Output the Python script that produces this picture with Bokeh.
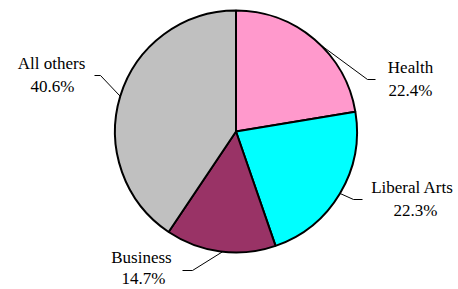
import math
from bokeh.plotting import figure
from bokeh.models import Range1d, ColumnDataSource
from bokeh.core.properties import value
from bokeh.embed import file_html
from bokeh.resources import INLINE

# ---- data ----
categories = ["Health", "Liberal Arts", "Business", "All others"]
shares = [22.4, 22.3, 14.7, 40.6]
pct_labels = ["22.4%", "22.3%", "14.7%", "40.6%"]
colors = ["#FF99CC", "#00FFFF", "#993366", "#C0C0C0"]

# ---- layout (image pixel coordinates, y downward) ----
W, H = 458, 289
CX, CY, R = 235.5, 131.0, 121.0
leader_angle_tweak = [-4.0, 0.0, 1.0, 0.0]          # degrees
elbows = [(367, 79), (353, 199), (192, 270), (100, 75)]
tails = [(375, 79), (362, 199), (182, 270), (94, 75)]
name_pos = [(410, 67), (412, 187), (141, 256.5), (51, 62.5)]
pct_pos = [(410, 90), (415, 210), (143, 278), (52, 86)]
FONT = "Liberation Serif"
FSIZE = "17px"

p = figure(width=W, height=H, output_backend="svg", toolbar_location=None,
           x_range=Range1d(0, W), y_range=Range1d(-H, 0),
           min_border=0)
p.axis.visible = False
p.grid.visible = False
p.outline_line_color = None
p.background_fill_color = "white"

total = sum(shares)
starts, ends, mids = [], [], []
cum = 0.0
for s in shares:
    a0 = math.pi / 2 - cum / total * 2 * math.pi
    cum += s
    a1 = math.pi / 2 - cum / total * 2 * math.pi
    starts.append(a0)
    ends.append(a1)
    mids.append((a0 + a1) / 2)

src = ColumnDataSource(dict(start=starts, end=ends, color=colors, cat=categories))
p.wedge(x=CX, y=-CY, radius=R, start_angle="start", end_angle="end",
        direction="clock", fill_color="color", line_color="black", line_width=2,
        source=src)

xs, ys = [], []
for i, m in enumerate(mids):
    a = m + math.radians(leader_angle_tweak[i])
    sx = CX + R * math.cos(a)
    sy = -CY + R * math.sin(a)
    xs.append([sx, elbows[i][0], tails[i][0]])
    ys.append([sy, -elbows[i][1], -tails[i][1]])
p.multi_line(xs=xs, ys=ys, line_color="black", line_width=1)

p.text(x=[q[0] for q in name_pos], y=[-q[1] for q in name_pos], text=categories,
       text_font=value(FONT), text_font_size=FSIZE, text_align="center",
       text_baseline="middle", text_color="black")
p.text(x=[q[0] for q in pct_pos], y=[-q[1] for q in pct_pos], text=pct_labels,
       text_font=value(FONT), text_font_size=FSIZE, text_align="center",
       text_baseline="middle", text_color="black")

open("out.html", "w").write(file_html(p, INLINE))
